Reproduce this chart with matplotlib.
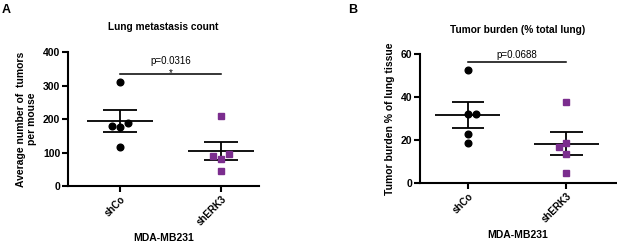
import numpy as np
import matplotlib.pyplot as plt

plt.rcParams['font.family'] = ['Liberation Sans', 'DejaVu Sans']

groups = ["shCo", "shERK3"]

# panel A: lung metastasis count (tumors per mouse)
count_shco = [312, 180, 176, 188, 117]
count_sherk3 = [208, 90, 82, 95, 46]
count_jitter_shco = [0.0, -0.08, 0.0, 0.08, 0.0]
count_jitter_sherk3 = [0.0, -0.08, 0.0, 0.08, 0.0]

# panel B: tumor burden (% of lung tissue)
burden_shco = [52.6, 32.0, 32.0, 22.8, 18.7]
burden_sherk3 = [37.8, 16.9, 18.5, 13.8, 4.6]
burden_jitter_shco = [0.0, 0.0, 0.08, 0.0, 0.0]
burden_jitter_sherk3 = [0.0, -0.08, 0.0, 0.0, 0.0]

PURPLE = "#7b2d8e"


def sem(v):
    v = np.asarray(v, dtype=float)
    return v.std(ddof=1) / np.sqrt(len(v))


def draw_panel(ax, data, jitters, ylim, yticks, ylabel, title, pval, sig_y,
               text_off, star=False, title_pad=15):
    markers = ["o", "s"]
    colors = ["black", PURPLE]
    for i, (vals, jit) in enumerate(zip(data, jitters)):
        xs = i + np.asarray(jit)
        ax.plot(xs, vals, linestyle="none", marker=markers[i], color=colors[i],
                markersize=4.8, zorder=3, clip_on=False)
        m = np.mean(vals)
        s = sem(vals)
        ax.hlines(m, i - 0.33, i + 0.33, color="black", lw=1.3, zorder=2)
        ax.vlines(i, m - s, m + s, color="black", lw=1.3, zorder=2)
        ax.hlines([m - s, m + s], i - 0.165, i + 0.165, color="black", lw=1.3, zorder=2)

    # significance bar
    ax.plot([0, 1], [sig_y, sig_y], color="black", lw=1.1, clip_on=False)
    span = ylim[1] - ylim[0]
    ax.text(0.5, sig_y + span * text_off, pval, ha="center", va="baseline", fontsize=7)
    if star:
        ax.text(0.5, sig_y - span * 0.01, "*", ha="center", va="baseline", fontsize=7)

    ax.set_ylim(*ylim)
    ax.set_yticks(yticks)
    ax.set_xticks([0, 1])
    ax.set_xticklabels(groups, rotation=45, ha="right", va="top",
                       rotation_mode="anchor", fontweight="bold", fontsize=7)
    for lab in ax.get_yticklabels():
        lab.set_fontweight("bold")
        lab.set_fontsize(7.5)
    ax.set_ylabel(ylabel, fontweight="bold", fontsize=7.5, labelpad=4)
    ax.set_xlabel("MDA-MB231", fontweight="bold", fontsize=7.5, labelpad=4)
    ax.set_title(title, fontweight="bold", fontsize=7.3, pad=title_pad)
    for side in ["top", "right"]:
        ax.spines[side].set_visible(False)
    for side in ["left", "bottom"]:
        ax.spines[side].set_linewidth(1.5)
    ax.tick_params(axis="both", width=1.5, length=4, pad=1.5)


fig = plt.figure(figsize=(6.17, 2.42), dpi=100)
ax_a = fig.add_axes([0.110, 0.231, 0.310, 0.554])
ax_b = fig.add_axes([0.681, 0.2424, 0.317, 0.536])

draw_panel(ax_a, [count_shco, count_sherk3], [count_jitter_shco, count_jitter_sherk3],
           (0, 400), [0, 100, 200, 300, 400],
           "Average number of  tumors\nper mouse", "Lung metastasis count",
           "p=0.0316", 333, 0.08, star=True, title_pad=16)
ax_a.set_xlim(-0.515, 1.376)

draw_panel(ax_b, [burden_shco, burden_sherk3], [burden_jitter_shco, burden_jitter_sherk3],
           (0, 60), [0, 20, 40, 60],
           "Tumor burden % of lung tissue", "Tumor burden (% total lung)",
           "p=0.0688", 56.1, 0.03, title_pad=14.5)
ax_b.set_xlim(-0.485, 1.5)

fig.text(0.003, 0.985, "A", fontweight="bold", fontsize=9, va="top")
fig.text(0.565, 0.985, "B", fontweight="bold", fontsize=9, va="top")

fig.savefig("out.png", dpi=100)
